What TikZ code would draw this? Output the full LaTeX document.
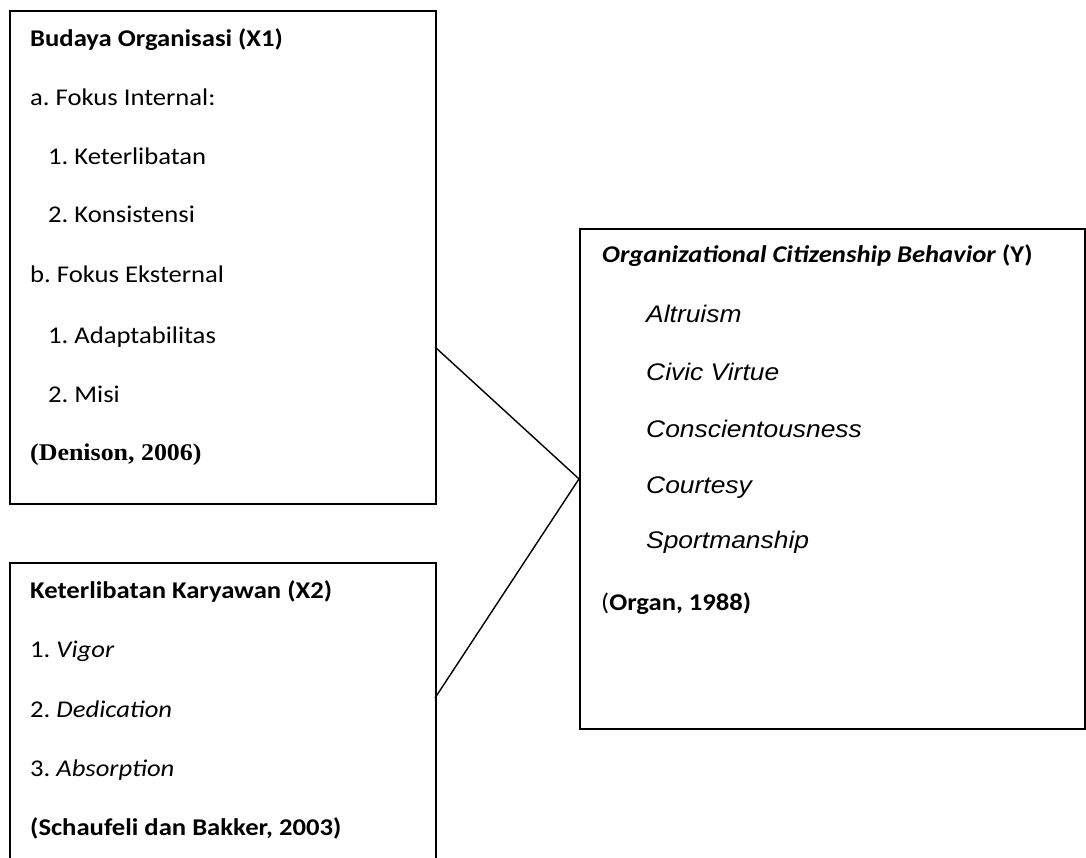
\documentclass[tikz,border=0pt]{standalone}
\usepackage{fontspec}
\setmainfont[FakeStretch=1.11]{Carlito}
\newfontfamily\arialfont[FakeStretch=1.1]{Liberation Sans}
\newfontfamily\timesfont[FakeStretch=1.08]{Liberation Serif}
\usetikzlibrary{positioning}
\frenchspacing

\begin{document}
\begin{tikzpicture}[
    x=1pt, y=-1pt,
    varbox/.style={rectangle, draw, line width=1.8pt, anchor=north west, inner sep=0pt},
    txt/.style={anchor=base west, inner sep=0pt, font=\fontsize{24}{28}\selectfont},
    ytxt/.style={txt, font=\fontsize{24}{28}\selectfont\arialfont\itshape},
    link/.style={line width=1.4pt}
]
\useasboundingbox (0,0) rectangle (1086,858);
\clip (0,0) rectangle (1086,858);

% Boxes
\node[varbox, minimum width=426pt, minimum height=493pt] (x1box) at (9,10) {};
\node[varbox, minimum width=426pt, minimum height=320pt] (x2box) at (9,562) {};
\node[varbox, minimum width=505pt, minimum height=500pt] (ybox) at (579,228) {};

% Budaya Organisasi (X1)
\node[txt, font=\fontsize{24}{28}\selectfont\bfseries] (x1title) at (30,47) {Budaya Organisasi (X1)};
\node[txt] (x1a) at (30,106) {a. Fokus Internal:};
\node[txt] (x1a1) at (48,165) {1. Keterlibatan};
\node[txt] (x1a2) at (48,223) {2. Konsistensi};
\node[txt] (x1b) at (30,283) {b. Fokus Eksternal};
\node[txt] (x1b1) at (48,343) {1. Adaptabilitas};
\node[txt] (x1b2) at (48,402) {2. Misi};
\node[txt, font=\fontsize{24}{28}\selectfont\timesfont\bfseries] (x1src) at (30,460) {(Denison, 2006)};

% Keterlibatan Karyawan (X2)
\node[txt, font=\fontsize{24}{28}\selectfont\bfseries] (x2title) at (30,598) {Keterlibatan Karyawan (X2)};
\node[txt] (x2i1) at (30,657) {1. \textit{Vigor}};
\node[txt] (x2i2) at (30,717) {2. \textit{Dedication}};
\node[txt] (x2i3) at (30,776) {3. \textit{Absorption}};
\node[txt, font=\fontsize{24}{28}\selectfont\bfseries] (x2src) at (30,835) {(Schaufeli dan Bakker, 2003)};

% Organizational Citizenship Behavior (Y)
\node[txt, font=\fontsize{24}{28}\selectfont\bfseries] (ytitle) at (602,263) {\textit{Organizational Citizenship Behavior} (Y)};
\node[ytxt] (yi1) at (646,323) {Altruism};
\node[ytxt] (yi2) at (646,380) {Civic Virtue};
\node[ytxt] (yi3) at (646,437) {Conscientousness};
\node[ytxt] (yi4) at (646,493) {Courtesy};
\node[ytxt] (yi5) at (646,548) {Sportmanship};
\node[txt] (ysrc) at (601,610) {(\textbf{Organ, 1988)}};

% Connectors
\coordinate (x1out) at (435,347);
\coordinate (x2out) at (435,698);
\draw[link] (x1out) -- (ybox.west) -- (x2out);

\end{tikzpicture}
\end{document}
